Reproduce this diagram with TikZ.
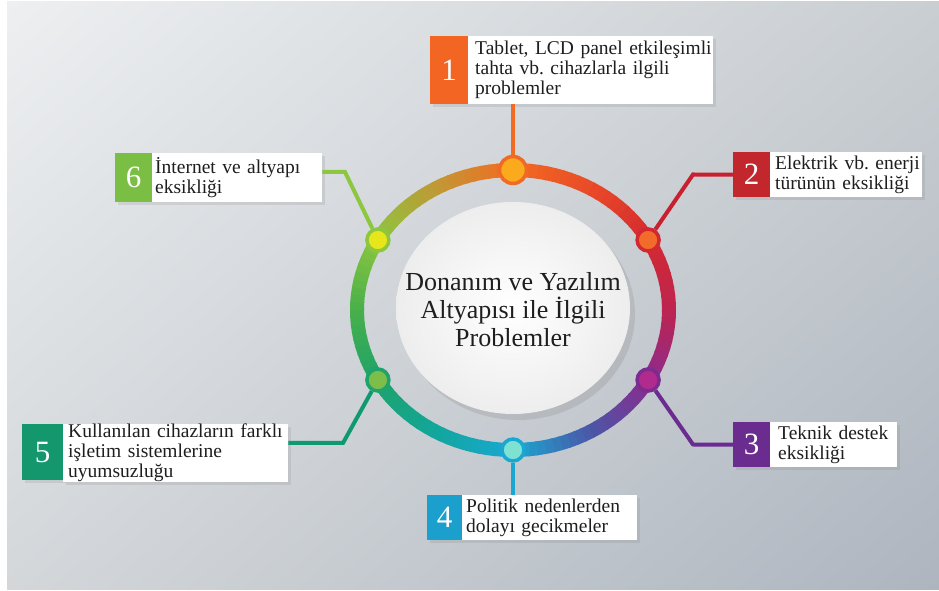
\documentclass[tikz,border=0pt]{standalone}
\usepackage{fontspec}
\setmainfont{Liberation Serif}
\usetikzlibrary{shapes.geometric,shadows,shadings,calc,backgrounds}
% background
\definecolor{bgUL}{HTML}{EDEFF1}
\definecolor{bgUR}{HTML}{C9CED2}
\definecolor{bgLL}{HTML}{D3D7DA}
\definecolor{bgLR}{HTML}{AEB5BF}
% ring stops (clockwise from top)
\definecolor{r0}{HTML}{F26B22}
\definecolor{r1}{HTML}{E94A28}
\definecolor{r2}{HTML}{D42A30}
\definecolor{r3}{HTML}{BE2450}
\definecolor{r4}{HTML}{8B2B8D}
\definecolor{r5}{HTML}{4B56A6}
\definecolor{r6}{HTML}{1AA8D2}
\definecolor{r7}{HTML}{12A69C}
\definecolor{r8}{HTML}{1DA36A}
\definecolor{r9}{HTML}{48B04A}
\definecolor{r10}{HTML}{8DC63F}
\definecolor{r11}{HTML}{BF9A36}
% box colours
\definecolor{n1}{HTML}{F26522}
\definecolor{n2}{HTML}{C1272D}
\definecolor{n3}{HTML}{6A2C8F}
\definecolor{n4}{HTML}{1BA0CE}
\definecolor{n5}{HTML}{14976D}
\definecolor{n6}{HTML}{7ABF43}
% connector colours
\definecolor{l1}{HTML}{F26B22}
\definecolor{l2}{HTML}{C8202F}
\definecolor{l3}{HTML}{6A2C91}
\definecolor{l4}{HTML}{1AA7CF}
\definecolor{l5}{HTML}{0E9A6E}
\definecolor{l6}{HTML}{8DC63F}
% dots
\definecolor{d1f}{HTML}{FBAA1E}\definecolor{d1b}{HTML}{EF6A25}
\definecolor{d2f}{HTML}{F26B2A}\definecolor{d2b}{HTML}{D1292F}
\definecolor{d3f}{HTML}{B12A8E}\definecolor{d3b}{HTML}{7C2B8E}
\definecolor{d4f}{HTML}{7EE2D2}\definecolor{d4b}{HTML}{1AA8D2}
\definecolor{d5f}{HTML}{7DBE4A}\definecolor{d5b}{HTML}{1EA36A}
\definecolor{d6f}{HTML}{E6E61A}\definecolor{d6b}{HTML}{8DC63F}
\definecolor{txtc}{HTML}{1E1E1E}
\lefthyphenmin=62
\hfuzz=30pt
\hbadness=10000
\frenchspacing

\begin{document}
\begin{tikzpicture}[x=1pt,y=1pt,
  numbox/.style={anchor=north west, inner sep=0pt, text=white,
    font=\fontsize{31}{31}\selectfont,
    drop shadow={shadow xshift=3pt,shadow yshift=-3pt,opacity=.18}},
  txtbox/.style={anchor=north west, fill=white, inner ysep=0pt, align=left,
    text=txtc, font=\fontsize{19.5}{20}\selectfont,
    drop shadow={shadow xshift=3pt,shadow yshift=-3pt,opacity=.18}},
  dotn/.style={circle, inner sep=0pt, line width=3.5pt},
  conn/.style={line width=4pt}
]
\useasboundingbox (0,0) rectangle (939,591);

% boxes
\node[numbox, fill=n1, minimum width=38pt, minimum height=68pt] (num1) at (430,555) {1};
\node[txtbox, inner xsep=7pt, text width=231pt, minimum height=68pt] (txt1) at (468,555)
  {\mbox{Tablet, LCD panel etkileşimli}\\\mbox{tahta vb. cihazlarla ilgili}\\problemler};
\node[numbox, fill=n2, minimum width=37pt, minimum height=45pt] (num2) at (733,439) {2};
\node[txtbox, inner xsep=5pt, text width=142pt, minimum height=45pt] (txt2) at (770,439)
  {\mbox{Elektrik vb. enerji}\\\mbox{türünün eksikliği}};
\node[numbox, fill=n3, minimum width=37pt, minimum height=45pt] (num3) at (733,169) {3};
\node[txtbox, inner xsep=8pt, text width=111pt, minimum height=45pt] (txt3) at (770,169)
  {\mbox{Teknik destek}\\eksikliği};
\node[numbox, fill=n4, minimum width=35pt, minimum height=45pt] (num4) at (427,96) {4};
\node[txtbox, inner xsep=4pt, text width=167pt, minimum height=45pt] (txt4) at (462,96)
  {\mbox{Politik nedenlerden}\\\mbox{dolayı gecikmeler}};
\node[numbox, fill=n5, minimum width=41pt, minimum height=56pt] (num5) at (22,167) {5};
\node[txtbox, inner xsep=5pt, text width=215pt, minimum height=56pt] (txt5) at (63,167)
  {\mbox{Kullanılan cihazların farklı}\\\mbox{işletim sistemlerine}\\uyumsuzluğu};
\node[numbox, fill=n6, minimum width=37pt, minimum height=49pt] (num6) at (115,438) {6};
\node[txtbox, inner xsep=3pt, text width=164pt, minimum height=49pt] (txt6) at (152,438)
  {\mbox{İnternet ve altyapı}\\eksikliği};

% hub
\node[ellipse, minimum width=234pt, minimum height=212pt, inner xsep=-26pt, inner ysep=0pt,
  text height=84pt, text depth=6pt,
  inner color=white, outer color=black!7, align=center, text=txtc,
  font=\fontsize{26}{28}\selectfont,
  drop shadow={shadow xshift=5pt,shadow yshift=-6pt,opacity=.22}] (hub) at (513,283)
  {Donanım ve Yazılım\\Altyapısı ile İlgili\\Problemler};

% dots on the ring
\node[dotn, fill=d1f, draw=d1b, minimum size=27pt] (dot1) at (513,421) {};
\node[dotn, fill=d2f, draw=d2b, minimum size=22pt] (dot2) at (648.1,351) {};
\node[dotn, fill=d3f, draw=d3b, minimum size=22pt] (dot3) at (648.1,211) {};
\node[dotn, fill=d4f, draw=d4b, minimum size=22pt] (dot4) at (513,141) {};
\node[dotn, fill=d5f, draw=d5b, minimum size=22pt] (dot5) at (377.9,211) {};
\node[dotn, fill=d6f, draw=d6b, minimum size=22pt] (dot6) at (377.9,351) {};

% elbow coordinates
\coordinate (e2) at (693,416.5);
\coordinate (e3) at (693,146.5);
\coordinate (e5) at (343,148);
\coordinate (e6) at (345,419);

% connectors
\draw[conn, l1] (dot1) -- (dot1 |- txt1.south);
\draw[conn, l2] (dot2) -- (e2) -- (num2.west);
\draw[conn, l3] (dot3) -- (e3) -- (num3.west);
\draw[conn, l4] (dot4) -- (dot4 |- txt4.north);
\draw[conn, l5] (dot5) -- (e5) -- (e5 -| txt5.east);
\draw[conn, l6] (dot6) -- (e6) -- (e6 -| txt6.east);

\begin{scope}[on background layer]
\shade[upper left=bgUL, upper right=bgUR, lower left=bgLL, lower right=bgLR]
  (7,1) rectangle (939,589);
% gradient ring
\foreach \i/\ca/\cb in {0/r0/r1,1/r1/r2,2/r2/r3,3/r3/r4,4/r4/r5,5/r5/r6,
                        6/r6/r7,7/r7/r8,8/r8/r9,9/r9/r10,10/r10/r11,11/r11/r0}{
  \foreach \k in {0,...,9}{
    \pgfmathsetmacro\s{90-30*\i-3*\k}
    \pgfmathsetmacro\e{\s-3.6}
    \pgfmathtruncatemacro\p{10*\k+5}
    \draw[line width=14pt, color=\cb!\p!\ca]
      ({513+156*cos(\s)},{281+140*sin(\s)})
      arc[start angle=\s, end angle=\e, x radius=156, y radius=140];
  }
}
\end{scope}
\end{tikzpicture}
\end{document}
